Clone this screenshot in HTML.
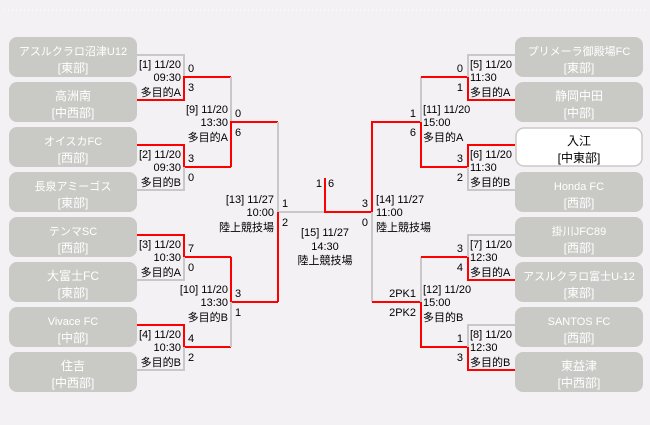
<!DOCTYPE html>
<html><head><meta charset="utf-8"><style>
body{margin:0;background:#f3f1f4;}
svg{display:block;font-family:"Liberation Sans","Noto Sans CJK JP",sans-serif;}
.b{fill:#c9c9c6;}
.w{fill:#fff;stroke:#c9c9c6;stroke-width:1.5;}
.bt{fill:#fff;font-size:12px;text-anchor:middle;}
.s{font-size:11px;}
.bk{fill:#000;font-size:12px;text-anchor:middle;}
.g{stroke:#c8c8c8;stroke-width:2;fill:none;}
.r{stroke:#f00;stroke-width:2;fill:none;}
text{font-size:11px;fill:#000;}
.e{text-anchor:end;}
.m{text-anchor:middle;}
</style></head><body>
<svg width="650" height="425" viewBox="0 0 650 425">
<line x1="4" y1="10" x2="646" y2="10" stroke="#fff" stroke-dasharray="1 3"/>
<rect class="b" x="9" y="37" width="128" height="40" rx="8"/><text class="bt s" x="73" y="55">アスルクラロ沼津U12</text><text class="bt" x="73" y="72">[東部]</text>
<rect class="b" x="9" y="82" width="128" height="40" rx="8"/><text class="bt" x="73" y="100">高洲南</text><text class="bt" x="73" y="117">[中西部]</text>
<rect class="b" x="9" y="127" width="128" height="40" rx="8"/><text class="bt s" x="73" y="145">オイスカFC</text><text class="bt" x="73" y="162">[西部]</text>
<rect class="b" x="9" y="172" width="128" height="40" rx="8"/><text class="bt s" x="73" y="190">長泉アミーゴス</text><text class="bt" x="73" y="207">[東部]</text>
<rect class="b" x="9" y="217" width="128" height="40" rx="8"/><text class="bt s" x="73" y="235">テンマSC</text><text class="bt" x="73" y="252">[西部]</text>
<rect class="b" x="9" y="262" width="128" height="40" rx="8"/><text class="bt" x="73" y="280">大富士FC</text><text class="bt" x="73" y="297">[東部]</text>
<rect class="b" x="9" y="307" width="128" height="40" rx="8"/><text class="bt s" x="73" y="325">Vivace FC</text><text class="bt" x="73" y="342">[中部]</text>
<rect class="b" x="9" y="352" width="128" height="40" rx="8"/><text class="bt" x="73" y="370">住吉</text><text class="bt" x="73" y="387">[中西部]</text>
<rect class="b" x="515" y="37" width="128" height="40" rx="8"/><text class="bt s" x="579" y="55">プリメーラ御殿場FC</text><text class="bt" x="579" y="72">[東部]</text>
<rect class="b" x="515" y="82" width="128" height="40" rx="8"/><text class="bt" x="579" y="100">静岡中田</text><text class="bt" x="579" y="117">[中部]</text>
<rect class="w" x="516" y="128" width="126" height="38" rx="8"/><text class="bk" x="579" y="145">入江</text><text class="bk" x="579" y="162">[中東部]</text>
<rect class="b" x="515" y="172" width="128" height="40" rx="8"/><text class="bt s" x="579" y="190">Honda FC</text><text class="bt" x="579" y="207">[西部]</text>
<rect class="b" x="515" y="217" width="128" height="40" rx="8"/><text class="bt s" x="579" y="235">掛川JFC89</text><text class="bt" x="579" y="252">[西部]</text>
<rect class="b" x="515" y="262" width="128" height="40" rx="8"/><text class="bt s" x="579" y="280">アスルクラロ富士U-12</text><text class="bt" x="579" y="297">[東部]</text>
<rect class="b" x="515" y="307" width="128" height="40" rx="8"/><text class="bt s" x="579" y="325">SANTOS FC</text><text class="bt" x="579" y="342">[西部]</text>
<rect class="b" x="515" y="352" width="128" height="40" rx="8"/><text class="bt" x="579" y="370">東益津</text><text class="bt" x="579" y="387">[中西部]</text>
<path class="g" d="M137 55H184V77"/><path class="r" d="M137 100H184V77H231"/>
<path class="r" d="M137 145H184V167H231"/><path class="g" d="M184 167V190H137"/>
<path class="r" d="M137 235H184V257H231"/><path class="g" d="M184 257V280H137"/>
<path class="r" d="M137 325H184V347H231"/><path class="g" d="M184 347V370H137"/>
<path class="g" d="M231 77V122"/><path class="r" d="M231 167V122H278"/>
<path class="r" d="M231 257V302H278"/><path class="g" d="M231 302V347"/>
<path class="g" d="M278 122V212H325"/><path class="r" d="M278 212V302"/>
<path class="r" d="M325 178V212H372V122H421"/>
<path class="g" d="M372 212V302"/><path class="r" d="M372 302H421V347H468"/>
<path class="g" d="M421 302V257"/><path class="r" d="M421 257H468V280H515"/>
<path class="g" d="M468 257V235H515"/>
<path class="g" d="M421 122V77"/><path class="r" d="M421 77H468V100H515"/>
<path class="g" d="M468 77V55H515"/>
<path class="r" d="M421 122V167H468V145H515"/><path class="g" d="M468 167V190H515"/>
<path class="g" d="M468 347V325H515"/><path class="r" d="M468 347V370H515"/>
<text class="e" x="181" y="68">[1] 11/20</text><text class="e" x="181" y="81">09:30</text><text class="e" x="181" y="96">多目的A</text><text x="188" y="72">0</text><text x="188" y="91">3</text>
<text class="e" x="181" y="158">[2] 11/20</text><text class="e" x="181" y="171">09:30</text><text class="e" x="181" y="186">多目的B</text><text x="188" y="162">3</text><text x="188" y="181">0</text>
<text class="e" x="181" y="248">[3] 11/20</text><text class="e" x="181" y="261">10:30</text><text class="e" x="181" y="276">多目的A</text><text x="188" y="252">7</text><text x="188" y="271">0</text>
<text class="e" x="181" y="338">[4] 11/20</text><text class="e" x="181" y="351">10:30</text><text class="e" x="181" y="366">多目的B</text><text x="188" y="342">4</text><text x="188" y="361">2</text>
<text class="e" x="228" y="113">[9] 11/20</text><text class="e" x="228" y="126">13:30</text><text class="e" x="228" y="141">多目的A</text><text x="235" y="117">0</text><text x="235" y="136">6</text>
<text class="e" x="228" y="293">[10] 11/20</text><text class="e" x="228" y="306">13:30</text><text class="e" x="228" y="321">多目的B</text><text x="235" y="297">3</text><text x="235" y="316">1</text>
<text class="e" x="274" y="203">[13] 11/27</text><text class="e" x="274" y="216">10:00</text><text class="e" x="274" y="231">陸上競技場</text><text x="282" y="207">1</text><text x="282" y="226">2</text>
<text class="e" x="322" y="187">1</text><text x="328" y="187">6</text>
<text class="m" x="325" y="236">[15] 11/27</text><text class="m" x="325" y="250">14:30</text><text class="m" x="325" y="264">陸上競技場</text>
<text x="376" y="203">[14] 11/27</text><text x="376" y="216">11:00</text><text x="376" y="231">陸上競技場</text><text class="e" x="368" y="207">3</text><text class="e" x="368" y="226">0</text>
<text x="423" y="113">[11] 11/20</text><text x="423" y="126">15:00</text><text x="423" y="141">多目的A</text><text class="e" x="416" y="117">1</text><text class="e" x="416" y="136">6</text>
<text x="423" y="293">[12] 11/20</text><text x="423" y="306">15:00</text><text x="423" y="321">多目的B</text><text class="e" x="416" y="297">2PK1</text><text class="e" x="416" y="316">2PK2</text>
<text x="470" y="68">[5] 11/20</text><text x="470" y="81">11:30</text><text x="470" y="96">多目的A</text><text class="e" x="463" y="72">0</text><text class="e" x="463" y="91">1</text>
<text x="470" y="158">[6] 11/20</text><text x="470" y="171">11:30</text><text x="470" y="186">多目的B</text><text class="e" x="463" y="162">3</text><text class="e" x="463" y="181">2</text>
<text x="470" y="248">[7] 11/20</text><text x="470" y="261">12:30</text><text x="470" y="276">多目的A</text><text class="e" x="463" y="252">3</text><text class="e" x="463" y="271">4</text>
<text x="470" y="338">[8] 11/20</text><text x="470" y="351">12:30</text><text x="470" y="366">多目的B</text><text class="e" x="463" y="342">1</text><text class="e" x="463" y="361">3</text>
</svg>
</body></html>
